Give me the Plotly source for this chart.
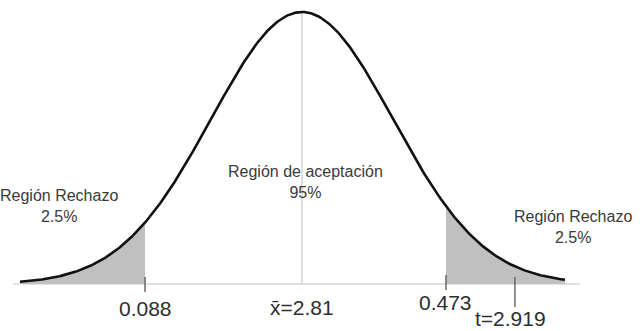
import numpy as np
import plotly.graph_objects as go

# ---- data (in standard-deviation units of the drawn normal curve) ----
curve_start, curve_end = -3.10, 2.89          # extent of drawn curve
crit_left, crit_right = -1.725, 1.582         # rejection region boundaries
t_stat = 2.34                                 # position of t statistic mark
mean_pos = 0.0
tick_labels = ["0.088", "x̄=2.81", "0.473", "t=2.919"]
region_labels = ["Región Rechazo<br>2.5%", "Región de aceptación<br>95%", "Región Rechazo<br>2.5%"]

W, H = 640, 331
X0, SX = 302, 91      # pixel of mean, pixels per sd
Y0, SY = 284, 272     # pixel of baseline, pixels per unit height

def pdf(z):
    return np.exp(-0.5 * z ** 2)

z = np.linspace(curve_start, curve_end, 400)
zl = np.linspace(curve_start, crit_left, 150)
zr = np.linspace(crit_right, curve_end, 150)

fig = go.Figure()
shade = "#c0c0c0"
fig.add_trace(go.Scatter(x=zl, y=pdf(zl), fill="tozeroy", fillcolor=shade,
                         line=dict(width=0, color=shade), mode="lines", hoverinfo="skip"))
fig.add_trace(go.Scatter(x=zr, y=pdf(zr), fill="tozeroy", fillcolor=shade,
                         line=dict(width=0, color=shade), mode="lines", hoverinfo="skip"))
# centre line
fig.add_trace(go.Scatter(x=[mean_pos, mean_pos], y=[0, 1], mode="lines",
                         line=dict(color="#d2d2d2", width=1.5), hoverinfo="skip"))
# baseline
fig.add_trace(go.Scatter(x=[(13 - X0) / SX, (580 - X0) / SX], y=[0, 0], mode="lines",
                         line=dict(color="#c4c4c4", width=1.2), hoverinfo="skip"))
# curve
fig.add_trace(go.Scatter(x=z, y=pdf(z), mode="lines",
                         line=dict(color="#111111", width=2.6), hoverinfo="skip"))

def py(p):
    return 1 - p / H

shapes = []
for xv, top, bot in [(crit_left, 277, 292), (crit_right, 275, 290), (t_stat, 277, 307)]:
    shapes.append(dict(type="line", xref="x", yref="paper", x0=xv, x1=xv,
                       y0=py(top), y1=py(bot), line=dict(color="#555555", width=1.3)))

font = "Arial, Liberation Sans, sans-serif"
ann = []
def add_text(text, xref, x, ypix, size, color):
    ann.append(dict(text=text, xref=xref, x=x, yref="paper", y=py(ypix),
                    xanchor="center", yanchor="middle", showarrow=False,
                    font=dict(family=font, size=size, color=color)))

rc = "#3a3a3a"
add_text(region_labels[0], "paper", 59 / W, 206, 16, rc)
add_text(region_labels[1], "paper", 305 / W, 182, 16, rc)
add_text(region_labels[2], "paper", 573 / W, 227, 16, rc)

tc = "#2e2e2e"
add_text(tick_labels[0], "x", crit_left, 308, 21, tc)
add_text(tick_labels[1], "x", mean_pos, 307, 21, tc)
add_text(tick_labels[2], "paper", 445 / W, 302, 21, tc)
add_text(tick_labels[3], "paper", 510 / W, 318, 21, tc)

fig.update_layout(
    width=W, height=H, margin=dict(l=0, r=0, t=0, b=0),
    paper_bgcolor="white", plot_bgcolor="white", showlegend=False,
    xaxis=dict(range=[-X0 / SX, (W - X0) / SX], visible=False, fixedrange=True),
    yaxis=dict(range=[-(H - Y0) / SY, Y0 / SY], visible=False, fixedrange=True),
    shapes=shapes, annotations=ann,
)
fig.write_html("out.html")
